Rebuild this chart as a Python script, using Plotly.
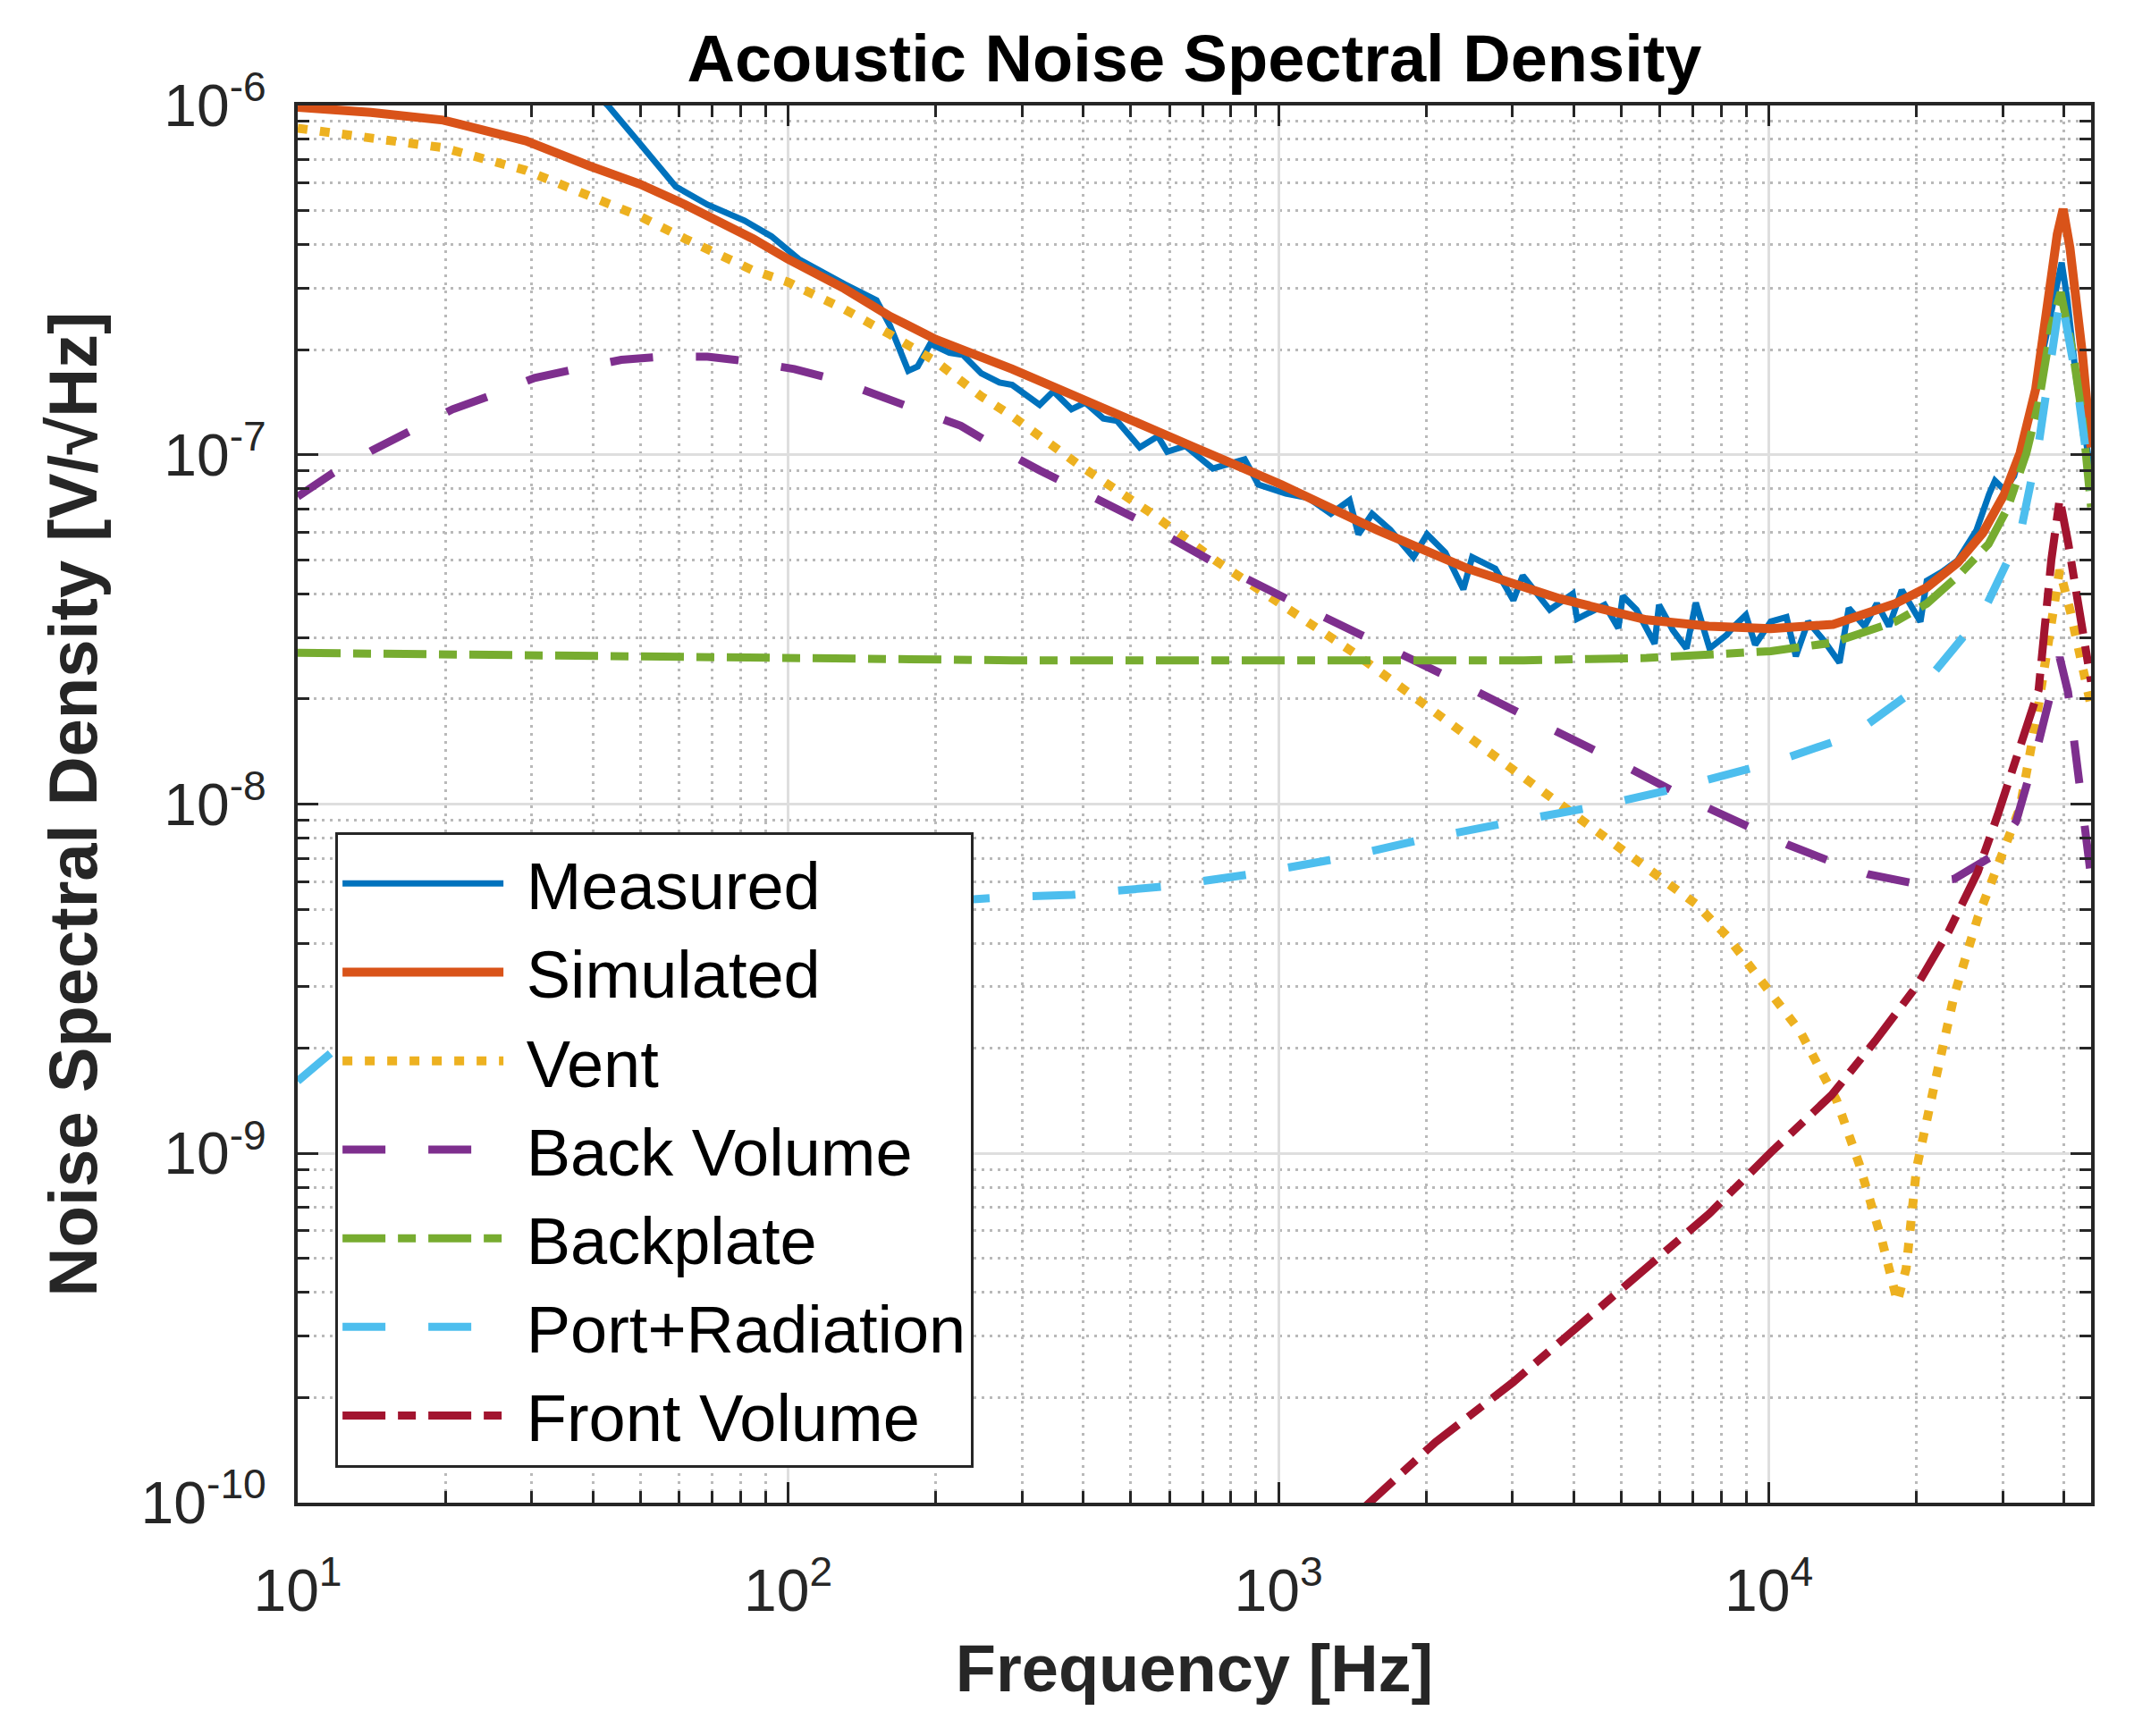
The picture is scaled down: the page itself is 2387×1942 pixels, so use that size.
import plotly.graph_objects as go

# ---------------- data ----------------
freq_meas = [38.0, 42.9, 49.8, 59.0, 68.5, 81.5, 92.5, 105.2, 130.3, 151.4, 161.4, 175.8, 183.7, 195.0,
             213.3, 227.5, 247.7, 269.8, 286.4, 325.8, 347.5, 378.4, 403.6, 439.5, 468.8, 521.2, 567.5,
             592.9, 645.7, 734.5, 853.1, 909.9, 1035, 1151, 1279, 1396, 1455, 1552, 1690, 1884, 2009,
             2188, 2382, 2483, 2767, 3013, 3148, 3573, 3981, 4064, 4624, 4932, 5035, 5370, 5848, 5970,
             6368, 6792, 7096, 7568, 8204, 8472, 8974, 9376, 10090, 10860, 11350, 12020, 12940, 13930,
             14550, 15670, 16600, 17580, 18660, 20370, 20990, 22540, 24270, 25760, 26490, 28120, 28910,
             30200, 31620, 33500, 35480, 37670, 39080, 39540, 40550, 42360, 44870, 45390]
psd_meas = [1.175e-6, 1.0e-6, 7.80e-7, 5.86e-7, 5.20e-7, 4.68e-7, 4.22e-7, 3.63e-7, 3.08e-7, 2.77e-7,
            2.34e-7, 1.74e-7, 1.79e-7, 2.08e-7, 1.96e-7, 1.93e-7, 1.71e-7, 1.61e-7, 1.585e-7, 1.39e-7,
            1.52e-7, 1.35e-7, 1.41e-7, 1.27e-7, 1.25e-7, 1.05e-7, 1.13e-7, 1.02e-7, 1.06e-7, 9.14e-8,
            9.70e-8, 8.22e-8, 7.74e-8, 7.52e-8, 6.78e-8, 7.41e-8, 5.92e-8, 6.78e-8, 6.10e-8, 5.09e-8,
            5.92e-8, 5.25e-8, 4.12e-8, 5.09e-8, 4.72e-8, 3.83e-8, 4.51e-8, 3.60e-8, 4.00e-8, 3.39e-8,
            3.72e-8, 3.19e-8, 3.94e-8, 3.60e-8, 2.88e-8, 3.72e-8, 3.15e-8, 2.79e-8, 3.77e-8, 2.79e-8,
            3.05e-8, 3.22e-8, 3.48e-8, 2.86e-8, 3.33e-8, 3.43e-8, 2.65e-8, 3.33e-8, 2.94e-8, 2.54e-8,
            3.64e-8, 3.23e-8, 3.75e-8, 3.23e-8, 4.10e-8, 3.33e-8, 4.36e-8, 4.62e-8, 4.99e-8, 5.71e-8,
            6.07e-8, 7.71e-8, 8.43e-8, 7.94e-8, 8.69e-8, 1.175e-7, 1.74e-7, 2.56e-7, 3.21e-7, 3.55e-7,
            2.82e-7, 1.64e-7, 9.82e-8, 8.91e-8]

freq_sim = [10, 14.1, 19.8, 29.2, 39.4, 49.8, 61.7, 84.9, 100, 130.3, 161.4, 200, 286.4, 439.5, 674.5,
            1012, 1585, 2432, 3733, 5623, 7534, 10090, 13520, 18110, 20990, 24270, 27290, 30200, 32510,
            34990, 37070, 38730, 39810, 41110, 43550, 45390]
psd_sim = [9.89e-7, 9.55e-7, 9.08e-7, 7.92e-7, 6.71e-7, 5.96e-7, 5.20e-7, 4.15e-7, 3.63e-7, 2.99e-7,
           2.49e-7, 2.14e-7, 1.76e-7, 1.37e-7, 1.05e-7, 8.22e-8, 6.10e-8, 4.72e-8, 3.88e-8, 3.37e-8,
           3.23e-8, 3.18e-8, 3.27e-8, 3.75e-8, 4.17e-8, 4.91e-8, 5.97e-8, 7.71e-8, 1.01e-7, 1.54e-7,
           2.72e-7, 4.28e-7, 5.05e-7, 3.91e-7, 1.96e-7, 1.05e-7]

freq_vent = [10, 19.8, 29.2, 39.4, 49.8, 61.7, 84.9, 100, 130.3, 161.4, 200, 247.7, 286.4, 394.5, 544.5,
             750, 1035, 1426, 1963, 2710, 3733, 5140, 7096, 8200, 11590, 13740, 15280, 17020, 18280,
             19050, 20000, 21730, 23880, 26670, 29790, 32510, 35080, 37670, 39170, 41210, 43550, 45390]
psd_vent = [8.61e-7, 7.57e-7, 6.52e-7, 5.52e-7, 4.82e-7, 4.15e-7, 3.37e-7, 3.12e-7, 2.61e-7, 2.21e-7,
            1.85e-7, 1.47e-7, 1.29e-7, 9.29e-8, 6.87e-8, 4.94e-8, 3.66e-8, 2.71e-8, 1.95e-8, 1.40e-8,
            1.00e-8, 7.33e-9, 5.18e-9, 4.20e-9, 2.23e-9, 1.42e-9, 9.33e-10, 5.60e-10, 3.76e-10, 4.68e-10,
            9.06e-10, 1.56e-9, 2.84e-9, 4.73e-9, 7.21e-9, 9.77e-9, 1.74e-8, 3.33e-8, 4.68e-8, 3.55e-8,
            2.46e-8, 1.91e-8]

freq_back = [10, 11.75, 14.2, 16.9, 20.7, 24.5, 30.4, 36.9, 45.7, 55.3, 68.5, 83.2, 103, 125, 155, 185,
             225, 270, 326, 511, 750, 1079, 1552, 2234, 3281, 4721, 6792, 9016, 10910, 13240, 15920,
             19720, 23880, 28580, 31920, 35080, 37670, 39170, 40740, 42660, 44360, 45390]
psd_back = [7.59e-8, 8.83e-8, 1.03e-7, 1.17e-7, 1.35e-7, 1.47e-7, 1.66e-7, 1.76e-7, 1.87e-7, 1.91e-7,
            1.91e-7, 1.85e-7, 1.76e-7, 1.64e-7, 1.47e-7, 1.35e-7, 1.21e-7, 1.04e-7, 9.02e-8, 6.58e-8,
            4.86e-8, 3.77e-8, 2.96e-8, 2.30e-8, 1.75e-8, 1.36e-8, 1.04e-8, 8.63e-9, 7.66e-9, 6.89e-9,
            6.30e-9, 5.93e-9, 6.11e-9, 7.10e-9, 8.91e-9, 1.41e-8, 2.11e-8, 2.63e-8, 2.09e-8, 1.20e-8,
            7.59e-9, 6.17e-9]

freq_bp = [10, 31.6, 100, 286.4, 1000, 3162, 5623, 10090, 13520, 18110, 20990, 24270, 28050, 30690,
           33500, 35480, 37670, 39360, 41690, 43550, 45390]
psd_bp = [2.71e-8, 2.66e-8, 2.62e-8, 2.58e-8, 2.58e-8, 2.58e-8, 2.62e-8, 2.74e-8, 2.90e-8, 3.33e-8,
          3.75e-8, 4.49e-8, 5.55e-8, 7.05e-8, 1.01e-7, 1.41e-7, 2.34e-7, 2.92e-7, 1.96e-7, 1.29e-7,
          7.08e-8]

freq_port = [10, 12.0, 20, 39.8, 79.4, 158.5, 273, 380, 586, 881, 1334, 1982, 3006, 4519, 6138, 10090,
             14760, 20990, 27290, 32510, 35480, 37670, 39360, 42360, 44870, 45390]
psd_port = [1.61e-9, 2.00e-9, 3.02e-9, 3.98e-9, 4.68e-9, 5.13e-9, 5.41e-9, 5.50e-9, 5.81e-9, 6.30e-9,
            7.00e-9, 7.94e-9, 8.91e-9, 9.89e-9, 1.09e-8, 1.31e-8, 1.57e-8, 2.25e-8, 3.52e-8, 5.89e-8,
            1.07e-7, 1.96e-7, 2.89e-7, 1.64e-7, 9.53e-8, 7.94e-8]

freq_front = [1479, 2089, 3006, 4055, 5470, 7551, 10120, 13430, 16480, 20000, 23280, 26670, 29380,
              32360, 35480, 37670, 39170, 40740, 42360, 45390]
psd_front = [9.55e-11, 1.49e-10, 2.21e-10, 3.16e-10, 4.54e-10, 6.71e-10, 1.01e-9, 1.47e-9, 2.10e-9,
             3.01e-9, 4.33e-9, 6.40e-9, 9.44e-9, 1.41e-8, 2.12e-8, 5.01e-8, 7.48e-8, 5.62e-8, 3.98e-8,
             2.24e-8]

series_names = ["Measured", "Simulated", "Vent", "Back Volume", "Backplate", "Port+Radiation", "Front Volume"]

x_tickvals = [10, 100, 1000, 10000]
x_ticktext = ["10<sup>1</sup>", "10<sup>2</sup>", "10<sup>3</sup>", "10<sup>4</sup>"]
y_tickvals = [1e-10, 1e-9, 1e-8, 1e-7, 1e-6]
y_ticktext = ["10<sup>-10</sup>", "10<sup>-9</sup>", "10<sup>-8</sup>", "10<sup>-7</sup>", "10<sup>-6</sup>"]
x_minor = [20, 30, 40, 50, 60, 70, 80, 90, 200, 300, 400, 500, 600, 700, 800, 900,
           2000, 3000, 4000, 5000, 6000, 7000, 8000, 9000, 20000, 30000, 40000]
y_minor = [m * 10.0 ** e for e in (-10, -9, -8, -7) for m in range(2, 10)]

# ---------------- figure ----------------
FONT = "Liberation Sans, Arial, Helvetica, sans-serif"
AX = "#262626"

styles = [
    dict(color="#0072BD", width=7, dash="solid"),
    dict(color="#D95319", width=10, dash="solid"),
    dict(color="#EDB120", width=10, dash="11px,14px"),
    dict(color="#7E2F8E", width=9, dash="48px,48px"),
    dict(color="#77AC30", width=9, dash="48px,14px,20px,14px"),
    dict(color="#4DBEEE", width=9, dash="48px,48px"),
    dict(color="#A2142F", width=9, dash="48px,14px,20px,14px"),
]
data = [(freq_meas, psd_meas), (freq_sim, psd_sim), (freq_vent, psd_vent), (freq_back, psd_back),
        (freq_bp, psd_bp), (freq_port, psd_port), (freq_front, psd_front)]

fig = go.Figure()
for name, (fx, fy), st in zip(series_names, data, styles):
    fig.add_trace(go.Scatter(x=fx, y=fy, mode="lines", name="\u00a0" + name, line=st))

common_axis = dict(
    showline=True, linecolor=AX, linewidth=4, mirror="allticks",
    ticks="inside", ticklen=23, tickwidth=3, tickcolor=AX,
    showgrid=True, gridcolor="#dedede", gridwidth=2.5,
    zeroline=False,
    tickfont=dict(family=FONT, size=66, color=AX),
    tickmode="array",
)
minor_common = dict(tickmode="array", ticks="inside", ticklen=13, tickwidth=3, tickcolor=AX,
                    showgrid=True, gridcolor="#b9b9b9", gridwidth=2.5, griddash="3px,6px")

fig.update_xaxes(
    type="log", range=[1, 4.657],
    tickvals=x_tickvals, ticktext=x_ticktext, ticklabelstandoff=38,
    minor=dict(tickvals=x_minor, **minor_common),
    title=dict(text="<b>Frequency [Hz]</b>", font=dict(family=FONT, size=74, color=AX), standoff=26),
    **common_axis,
)
fig.update_yaxes(
    type="log", range=[-10, -6],
    tickvals=y_tickvals, ticktext=y_ticktext, ticklabelstandoff=18,
    minor=dict(tickvals=y_minor, **minor_common),
    title=dict(text="<b>Noise Spectral Density [V/\u221aHz]</b>", font=dict(family=FONT, size=76, color=AX),
               standoff=25),
    **common_axis,
)

fig.update_layout(
    width=2387, height=1942,
    margin=dict(l=325, r=56, t=110, b=269, autoexpand=False),
    paper_bgcolor="white", plot_bgcolor="white",
    title=dict(text="<b>Acoustic Noise Spectral Density</b>", x=0.5, xref="paper", xanchor="center",
               y=1 - 57 / 1942, yref="container", yanchor="middle",
               font=dict(family=FONT, size=74, color="black")),
    legend=dict(x=0.021, y=0.48, xanchor="left", yanchor="top", bgcolor="white",
                bordercolor=AX, borderwidth=3, itemwidth=180, tracegroupgap=0,
                font=dict(family=FONT, size=74, color="black")),
    showlegend=True,
)

fig.write_html("out.html")
